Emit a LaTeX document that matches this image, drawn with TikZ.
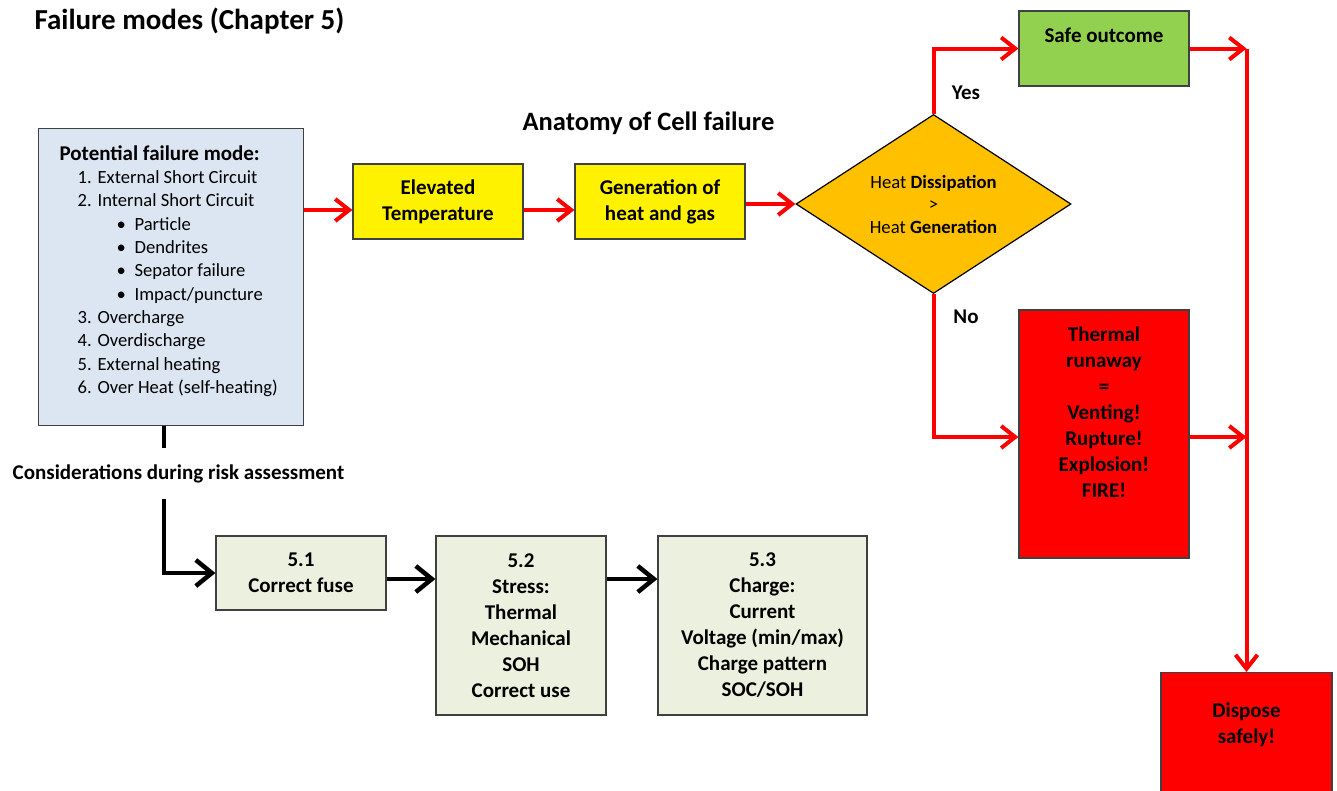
\documentclass[tikz,border=0pt]{standalone}
\usepackage{fontspec}
\setmainfont{Carlito}
\usetikzlibrary{arrows.meta,positioning,shapes.geometric}
\definecolor{paleblue}{RGB}{220,230,242}
\definecolor{paleolive}{RGB}{235,241,222}
\definecolor{amber}{RGB}{255,192,0}
\definecolor{leafgreen}{RGB}{146,208,80}
\newcommand{\bodyfont}{\fontsize{21}{26}\selectfont\bfseries}
\newcommand{\topalign}[3]{\parbox[c][#1][t]{170pt}{\centering\vspace*{#2}#3}}
\newcommand{\numitem}[1]{\hspace*{39pt}\makebox[20pt][l]{#1}}
\newcommand{\bulitem}{\hspace*{78pt}\makebox[18pt][l]{\textbullet}}

\begin{document}
\begin{tikzpicture}[x=1pt, y=-1pt,
    box/.style = {draw=black!75, line width=1.2pt, align=center, inner sep=0pt, font=\bodyfont},
    ybox/.style = {box, fill=yellow, minimum width=170pt, minimum height=75pt},
    cbox/.style = {box, fill=paleolive, minimum width=170pt},
    rbox/.style = {box, fill=red, minimum width=170pt},
    redflow/.style = {draw=red, line width=4pt, -{Straight Barb[length=14pt, width=22pt]}},
    blkflow/.style = {draw=black, line width=4.5pt, -{Straight Barb[length=16pt, width=26pt]}},
    lbl/.style = {font=\bodyfont, anchor=base}]

    \useasboundingbox (0,0) rectangle (1337,790);

    % Headings
    \node[font=\bfseries\fontsize{29}{34}\selectfont, anchor=base west] (title) at (31,29) {Failure modes (Chapter 5)};
    \node[font=\bfseries\fontsize{26.5}{32}\selectfont, anchor=base] (anat) at (648.5,130) {Anatomy of Cell failure};

    % Nodes
    \node[box, fill=paleblue, minimum width=265pt, minimum height=297pt, anchor=north west] (pfm) at (38,128) {\parbox[c][297pt][t]{265pt}{\raggedright\vspace*{17pt}%
        \hspace*{21pt}{\fontsize{21}{23.3}\selectfont\bfseries Potential failure mode:}\\
        \fontsize{18.6}{23.3}\selectfont\mdseries
        \numitem{1.}External Short Circuit\\
        \numitem{2.}Internal Short Circuit\\
        \bulitem Particle\\
        \bulitem Dendrites\\
        \bulitem Sepator failure\\
        \bulitem Impact/puncture\\
        \numitem{3.}Overcharge\\
        \numitem{4.}Overdischarge\\
        \numitem{5.}External heating\\
        \numitem{6.}Over Heat (self-heating)}};
    \node[ybox] (elev) at (438,201.5) {Elevated\\Temperature};
    \node[ybox, right=50.8pt of elev] (gen) {Generation of\\heat and gas};
    \node[diamond, draw=black, line width=1.2pt, fill=amber, minimum width=275pt, minimum height=179pt, aspect=1.54, inner sep=0pt, align=center, font=\fontsize{18.7}{22.5}\selectfont] (dia) at (933.5,204) {Heat \textbf{Dissipation}\\>\\Heat \textbf{Generation}};
    \node[box, fill=leafgreen, minimum width=170pt, minimum height=75pt] (safe) at (1104,48.5) {\topalign{75pt}{17pt}{Safe outcome}};
    \node[rbox, minimum height=248pt] (therm) at (1104,434) {\topalign{248pt}{17pt}{Thermal\\runaway\\=\\Venting!\\Rupture!\\Explosion!\\FIRE!}};
    \node[rbox, minimum width=171pt, minimum height=128pt, anchor=north] (disp) at (1246.5,672) {\topalign{128pt}{30pt}{Dispose\\safely!}};

    \node[cbox, minimum height=74pt] (fuse) at (301,573) {5.1\\Correct fuse};
    \node[cbox, minimum height=179pt, right=48.8pt of fuse.north east, anchor=north west] (stress) {5.2\\Stress:\\Thermal\\Mechanical\\SOH\\Correct use};
    \node[cbox, minimum width=209pt, minimum height=179pt, right=50.8pt of stress.north east, anchor=north west] (charge) {5.3\\Charge:\\Current\\Voltage (min/max)\\Charge pattern\\SOC/SOH};

    % Labels
    \node[lbl] (yes) at (966,99) {Yes};
    \node[lbl] (no) at (966,323) {No};
    \node[lbl] (cons) at (178.5,479) {Considerations during risk assessment};

    % Levels of the connectors
    \coordinate (lvl) at (0,210);
    \coordinate (lvl2) at (0,579);
    \coordinate (lvl3) at (0,437);
    \coordinate (k1) at (164,448);
    \coordinate (k2) at (164,499);

    % Cell failure chain
    \draw[redflow] (pfm.east |- lvl) -- (elev.west |- lvl);
    \draw[redflow] (elev.east |- lvl) -- (gen.west |- lvl);
    \draw[redflow] (gen.east |- dia.west) -- (dia.west);
    \draw[redflow] (dia.north) |- (safe.west);
    \draw[redflow] (dia.south) |- (therm.west |- lvl3);
    \draw[redflow] (safe.east) -- (safe.east -| disp.north);
    \draw[redflow] (therm.east |- lvl3) -- (lvl3 -| disp.north);
    \draw[redflow] (safe.east -| disp.north) -- (disp.north);

    % Risk assessment chain
    \draw[black, line width=4.5pt] (pfm.south -| k1) -- (k1);
    \draw[blkflow] (k2) |- (fuse.west);
    \draw[blkflow] (fuse.east |- lvl2) -- (stress.west |- lvl2);
    \draw[blkflow] (stress.east |- lvl2) -- (charge.west |- lvl2);
\end{tikzpicture}
\end{document}
